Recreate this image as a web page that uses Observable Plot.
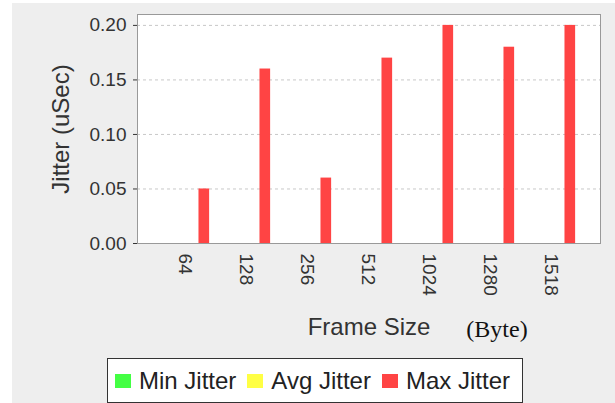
<!DOCTYPE html>
<html><head><meta charset="utf-8">
<script src="https://cdn.jsdelivr.net/npm/d3@7"></script>
<script src="https://cdn.jsdelivr.net/npm/@observablehq/plot@0.6"></script>
<style>
body{margin:0;background:#fff;}
#wrap{position:relative;width:615px;height:403px;overflow:hidden;font-family:"Liberation Sans",Arial,sans-serif;}
#bg{position:absolute;left:12px;top:3px;right:0;bottom:0;background:#eeeeee;}
#chart{position:absolute;left:0;top:0;}
#legend{position:absolute;left:107px;top:358px;width:416px;height:45px;box-sizing:border-box;border:1.5px solid #333;background:#fff;display:flex;align-items:center;padding-left:7px;font-size:24px;color:#222;}
#legend .sw{display:inline-block;width:16px;height:14px;margin-right:8px;}
#legend .it{display:flex;align-items:center;margin-right:11px;}
</style>
</head><body>
<div id="wrap"><div id="bg"></div><div id="chart"></div><div id="legend"></div></div>
<script>
const sizes = ["64","128","256","512","1024","1280","1518"];
const minJitter = [0,0,0,0,0,0,0];
const avgJitter = [0,0,0,0,0,0,0];
const maxJitter = [0.05,0.16,0.06,0.17,0.20,0.18,0.20];
const yTicks = [0,0.05,0.10,0.15,0.20];
const seriesNames = ["Min Jitter","Avg Jitter","Max Jitter"];
const seriesColors = ["#44ff44","#ffff44","#ff4444"];

const rows = sizes.map((s,i)=>({size:s,min:minJitter[i],avg:avgJitter[i],max:maxJitter[i]}));
const W = 615, H = 350, mL = 137, mR = 15, mT = 14, mB = 107;
const xInL = 14, xInR = 16;
const band = (W - mL - mR - xInL - xInR) / sizes.length;
const bw = 11.5, off = 19.3;
const inset = (band - bw) / 2;
const keys = ["min","avg","max"];

const plot = Plot.plot({
  width: W, height: H,
  marginLeft: mL, marginRight: mR, marginTop: mT, marginBottom: mB,
  style: {background: "transparent", fontFamily: "'Liberation Sans', Arial, sans-serif", fontSize: "19px", color: "#333"},
  x: {domain: sizes, padding: 0, insetLeft: xInL, insetRight: xInR, tickSize: 0, tickPadding: 10, tickRotate: 90, label: null},
  y: {domain: [0, 0.21], ticks: yTicks, tickFormat: ".2f", tickSize: 4, tickPadding: 7, label: null},
  marks: [
    Plot.frame({fill: "white", stroke: null}),
    Plot.ruleY(yTicks.filter(d => d > 0), {stroke: "#c8c8c8", strokeDasharray: "3,3", strokeWidth: 1}),
    ...keys.map((k, j) => Plot.barY(rows, {x: "size", y: k, fill: seriesColors[j], dx: (j - 1) * off, insetLeft: inset, insetRight: inset})),
    Plot.frame({stroke: "#999", fill: "none"}),
    Plot.text(["Jitter (uSec)"], {frameAnchor: "left", dx: -76, rotate: -90, textAnchor: "middle", lineAnchor: "middle", fontSize: 24, fill: "#333"}),
    Plot.text(["Frame Size"], {frameAnchor: "bottom", dy: 84, textAnchor: "middle", lineAnchor: "middle", fontSize: 24, fill: "#333"}),
    Plot.text(["(Byte)"], {frameAnchor: "bottom", dx: 128, dy: 86, textAnchor: "middle", lineAnchor: "middle", fontSize: 24, fontFamily: "'Liberation Serif', 'Times New Roman', serif", fill: "#111"})
  ]
});
document.getElementById("chart").appendChild(plot);

const leg = document.getElementById("legend");
seriesNames.forEach((n, i) => {
  const it = document.createElement("span");
  it.className = "it";
  const sw = document.createElement("span");
  sw.className = "sw";
  sw.style.background = seriesColors[i];
  it.appendChild(sw);
  it.appendChild(document.createTextNode(n));
  leg.appendChild(it);
});
</script>
</body></html>
